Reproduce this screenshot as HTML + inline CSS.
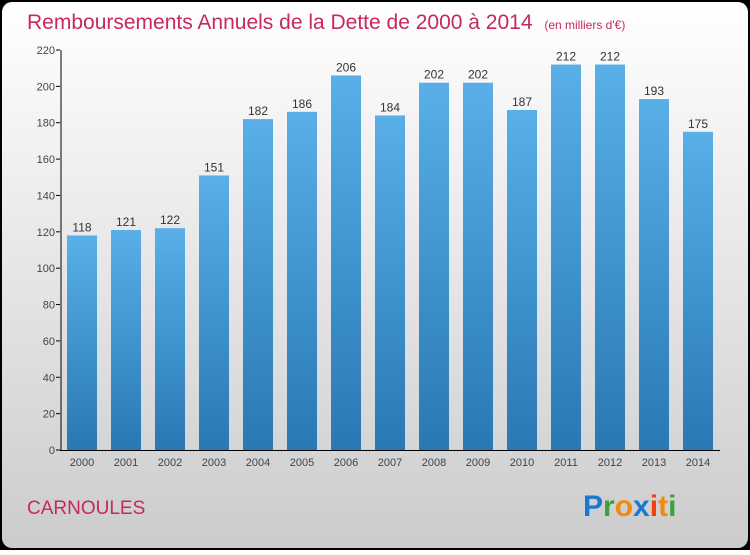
<!DOCTYPE html>
<html><head><meta charset="utf-8"><style>
body{margin:0;width:750px;height:550px;overflow:hidden;font-family:"Liberation Sans",sans-serif}
</style></head><body>
<svg width="750" height="550" viewBox="0 0 750 550" xmlns="http://www.w3.org/2000/svg">
<defs>
<linearGradient id="bg" x1="0" y1="0" x2="0" y2="1"><stop offset="0" stop-color="#ffffff"/><stop offset="1" stop-color="#cccccc"/></linearGradient>
<linearGradient id="bar" x1="0" y1="0" x2="0" y2="1"><stop offset="0" stop-color="#5aafe8"/><stop offset="1" stop-color="#2878b4"/></linearGradient>
</defs>
<rect x="0" y="0" width="750" height="550" fill="#000"/>
<rect x="2" y="2" width="746" height="546" rx="10" fill="url(#bg)"/>
<text x="27" y="29" font-size="21" fill="#c8285a">Remboursements Annuels de la Dette de 2000 à 2014 <tspan font-size="12" dx="6">(en milliers d'€)</tspan></text>
<g id="plot"></g>
<text x="27" y="514" font-size="19" fill="#c8285a">CARNOULES</text>
<g font-size="30" font-weight="bold">
<text x="583" y="516"><tspan fill="#1a78d0">P</tspan><tspan fill="#3aa040">r</tspan><tspan fill="#f08a10">o</tspan><tspan fill="#1a78d0">x</tspan><tspan fill="#f04010">i</tspan><tspan fill="#f08a10">t</tspan><tspan fill="#3aa040">i</tspan></text>
</g>
</svg>
<script>
const years=["2000","2001","2002","2003","2004","2005","2006","2007","2008","2009","2010","2011","2012","2013","2014"];
const values=[118,121,122,151,182,186,206,184,202,202,187,212,212,193,175];
const ticks=[0,20,40,60,80,100,120,140,160,180,200,220];
const NS="http://www.w3.org/2000/svg";
const g=document.getElementById('plot');
const x0=60,x1=720,yTop=50,yBot=450,max=220;
const y=v=>yBot-(v/max)*(yBot-yTop);
const slot=(x1-x0)/years.length;
function mk(t,a){const e=document.createElementNS(NS,t);for(const k in a)e.setAttribute(k,a[k]);g.appendChild(e);return e;}
ticks.forEach(t=>{
 const l=mk('line',{x1:x0-4,x2:x0,y1:y(t),y2:y(t),stroke:'#000'});
 
 
 const tx=mk('text',{x:x0-5,y:y(t)+4,'text-anchor':'end','font-size':11,fill:'#444'});
 tx.textContent=t;
 
 
});
years.forEach((yr,i)=>{
 const cx=x0+slot*(i+0.5),v=values[i];
 const r=mk('rect',{x:cx-15,y:y(v),width:30,height:yBot-y(v),fill:'url(#bar)'});
 
 
 const vl=mk('text',{x:cx,y:y(v)-4,'text-anchor':'middle','font-size':12,fill:'#333'});
 vl.textContent=v;
 
 
 const xl=mk('text',{x:cx,y:466,'text-anchor':'middle','font-size':11,fill:'#444'});
 xl.textContent=yr;
 
 
});
const ya=mk('line',{x1:x0+1,x2:x0+1,y1:yTop,y2:yBot,stroke:'#000'});


const xa=mk('line',{x1:x0,x2:x1,y1:yBot+0.5,y2:yBot+0.5,stroke:'#000'});


</script>
</body></html>
